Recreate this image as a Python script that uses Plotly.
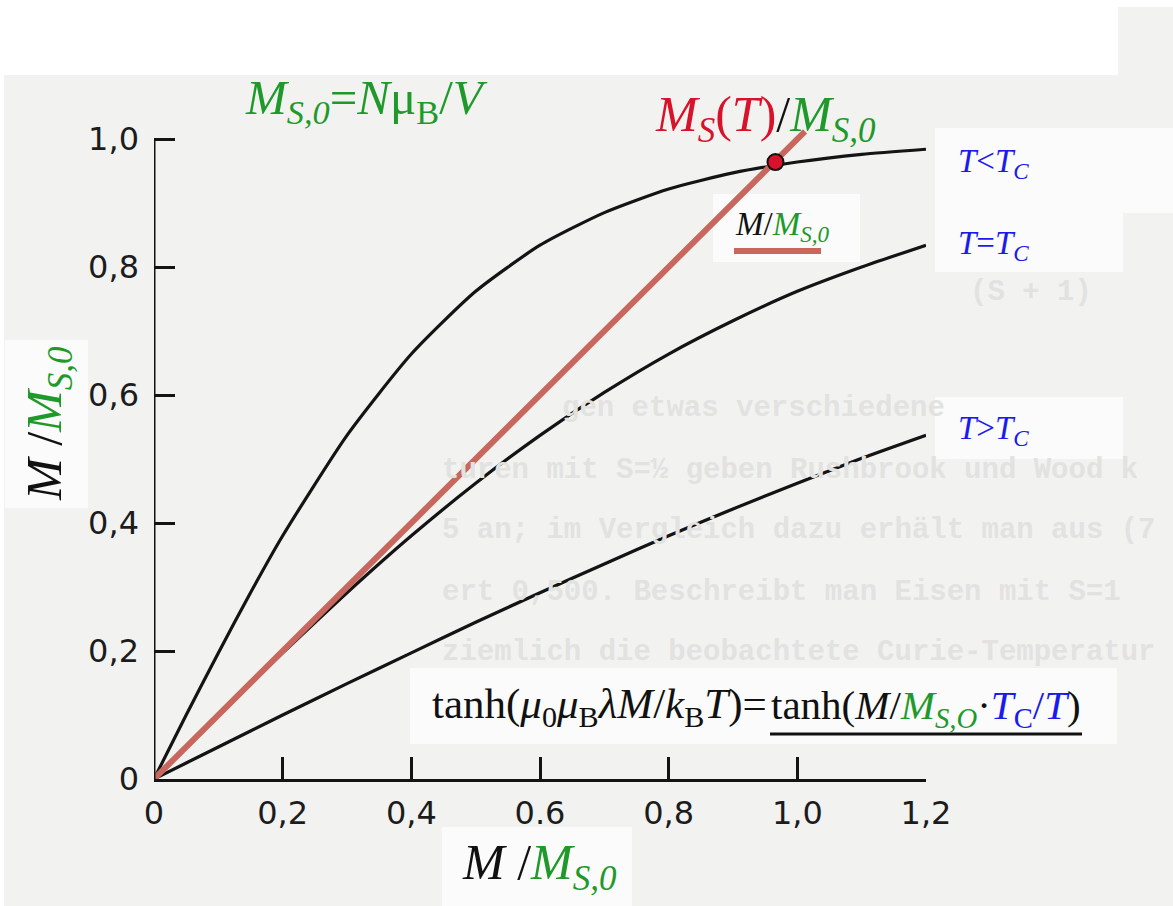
import plotly.graph_objects as go

# ---------------- data ----------------
x_vals = [0, 0.05, 0.1, 0.15, 0.2, 0.3, 0.4, 0.5, 0.6, 0.7, 0.8, 0.9, 1.0, 1.1, 1.2]
y_below_tc = [0, 0.100, 0.197, 0.291, 0.380, 0.537, 0.664, 0.762, 0.834, 0.885, 0.922, 0.947, 0.964, 0.976, 0.984]
y_at_tc = [0, 0.050, 0.100, 0.149, 0.197, 0.291, 0.380, 0.462, 0.537, 0.604, 0.664, 0.716, 0.762, 0.800, 0.834]
y_above_tc = [0, 0.025, 0.050, 0.075, 0.100, 0.149, 0.197, 0.245, 0.291, 0.336, 0.380, 0.422, 0.462, 0.501, 0.537]
line_x = [0, 1.012]
line_y = [0, 1.012]
point_x = [0.966]
point_y = [0.964]

x_ticks = [0, 0.2, 0.4, 0.6, 0.8, 1.0, 1.2]
x_tick_text = ["0", "0,2", "0,4", "0.6", "0,8", "1,0", "1,2"]
y_ticks = [0, 0.2, 0.4, 0.6, 0.8, 1.0]
y_tick_text = ["0", "0,2", "0,4", "0,6", "0,8", "1,0"]

# ---------------- layout constants ----------------
W, H = 1173, 906
ML, MR, MT, MB = 154, 247, 75, 127
PW, PH = W - ML - MR, H - MT - MB

GREEN = "#1f9a2a"
RED = "#d8122a"
BLUE = "#1a1aee"
SALMON = "#c8675e"
PAPER = "#f2f3f1"
BOX = "#fafbfa"
SERIF = "Liberation Serif"


def px(xp, yp):
    return (xp - ML) / PW, (H - MB - yp) / PH


fig = go.Figure()

curve_style = dict(color="#141414", width=3.2, shape="spline", smoothing=0.6)
fig.add_trace(go.Scatter(x=x_vals, y=y_below_tc, mode="lines", line=curve_style, hoverinfo="skip"))
fig.add_trace(go.Scatter(x=x_vals, y=y_at_tc, mode="lines", line=curve_style, hoverinfo="skip"))
fig.add_trace(go.Scatter(x=x_vals, y=y_above_tc, mode="lines", line=curve_style, hoverinfo="skip"))
fig.add_trace(go.Scatter(x=line_x, y=line_y, mode="lines", line=dict(color=SALMON, width=6), hoverinfo="skip"))
fig.add_trace(go.Scatter(x=point_x, y=point_y, mode="markers",
                         marker=dict(color=RED, size=16, line=dict(color="#111", width=2)),
                         hoverinfo="skip", cliponaxis=False))

shapes = []


def rect(x0, y0, x1, y1, color):
    a0, b0 = px(x0, y1)
    a1, b1 = px(x1, y0)
    shapes.append(dict(type="rect", xref="paper", yref="paper", x0=a0, y0=b0, x1=a1, y1=b1,
                       fillcolor=color, line=dict(width=0), layer="below"))


# white regions of the page (outside the scan) and label boxes
rect(0, 0, 1118, 75, "#ffffff")
rect(1118, 0, 1173, 7, "#ffffff")
rect(0, 75, 4, 906, "#ffffff")
rect(935, 128, 1123, 272, BOX)
rect(1123, 128, 1173, 213, BOX)
rect(935, 397, 1123, 459, BOX)
rect(713, 194, 860, 262, BOX)
rect(410, 668, 1117, 744, BOX)
rect(442, 827, 632, 906, BOX)
rect(5, 340, 88, 508, BOX)

# y axis line (scanned axis only reaches 1,0)
shapes.append(dict(type="line", xref="x", yref="y", x0=0, x1=0, y0=0, y1=1.0,
                   line=dict(color="#141414", width=3), layer="above"))

# red sample line under the small label
a0, b0 = px(734, 251)
a1, _ = px(821, 251)
shapes.append(dict(type="line", xref="paper", yref="paper", x0=a0, x1=a1, y0=b0, y1=b0,
                   line=dict(color=SALMON, width=6)))
# underline in the formula (under the right-hand side)
a0, b0 = px(770, 734)
a1, _ = px(1082, 734)
shapes.append(dict(type="line", xref="paper", yref="paper", x0=a0, x1=a1, y0=b0, y1=b0,
                   line=dict(color="#111", width=3)))

annotations = []


def label(xp, yp, text, size, color="#111", xanchor="left", angle=0, family=SERIF, yanchor="middle"):
    a, b = px(xp, yp)
    annotations.append(dict(xref="paper", yref="paper", x=a, y=b, text=text, showarrow=False,
                            xanchor=xanchor, yanchor=yanchor, textangle=angle,
                            font=dict(family=family, size=size, color=color)))


# faint text from the scanned page in the background
faint = "#e2e2e1"
faint_lines = [
    (968, 292, "(S + 1)"),
    (560, 408, "gen etwas verschiedene"),
    (440, 470, "turen mit S=½ geben Rushbrook und Wood k"),
    (440, 530, "5 an; im Vergleich dazu erhält man aus (7"),
    (440, 592, "ert 0,500. Beschreibt man Eisen mit S=1"),
    (440, 652, "ziemlich die beobachtete Curie-Temperatur"),
]
for xp, yp, t in faint_lines:
    label(xp, yp, "<b>" + t + "</b>", 29, color=faint, family="Liberation Mono")

g = lambda s: f"<span style='color:{GREEN}'>{s}</span>"
r = lambda s: f"<span style='color:{RED}'>{s}</span>"
b = lambda s: f"<span style='color:{BLUE}'>{s}</span>"

label(243, 100, g("<i>M</i><sub><i>S,0</i></sub>=<i>N</i>μ<sub>B</sub>/<i>V</i>"), 49)
label(653, 118, r("<i>M</i><sub><i>S</i></sub>(<i>T</i>)") + "/" + g("<i>M</i><sub><i>S,0</i></sub>"), 50)
label(956, 163, b("<i>T</i>&lt;<i>T</i><sub><i>C</i></sub>"), 33)
label(956, 245, b("<i>T</i>=<i>T</i><sub><i>C</i></sub>"), 33)
label(956, 430, b("<i>T</i>&gt;<i>T</i><sub><i>C</i></sub>"), 33)
label(733, 226, "<i>M</i>/" + g("<i>M</i><sub><i>S,0</i></sub>"), 33)
label(430, 707,
      "tanh(<i>μ</i><sub>0</sub><i>μ</i><sub>B</sub><i>λM</i>/<i>k</i><sub>B</sub><i>T</i>)=", 43)
label(769, 708,
      "tanh(<i>M</i>/" + g("<i>M</i><sub><i>S,O</i></sub>") + "·" + b("<i>T</i><sub>C</sub>/<i>T</i>") + ")", 41)
label(460, 866, "<i>M</i> /" + g("<i>M</i><sub><i>S,0</i></sub>"), 50)
label(48, 424, "<i>M</i> /" + g("<i>M</i><sub><i>S,0</i></sub>"), 50, xanchor="center", angle=-90)

tick_font = dict(family="DejaVu Sans", size=32, color="#1c1c1c")

fig.update_layout(
    width=W, height=H,
    margin=dict(l=ML, r=MR, t=MT, b=MB, pad=0),
    paper_bgcolor=PAPER,
    plot_bgcolor="rgba(0,0,0,0)",
    showlegend=False,
    shapes=shapes,
    annotations=annotations,
    xaxis=dict(range=[0, 1.2], showgrid=False, zeroline=False, showline=True,
               linecolor="#141414", linewidth=3, ticks="inside", ticklen=22, tickwidth=2.5,
               tickcolor="#141414", tickvals=x_ticks, ticktext=x_tick_text,
               tickfont=tick_font, ticklabelstandoff=4, fixedrange=True),
    yaxis=dict(range=[0, 1.1], showgrid=False, zeroline=False, showline=False,
               ticks="inside", ticklen=21, tickwidth=2.5, tickcolor="#141414",
               tickvals=y_ticks, ticktext=y_tick_text, tickfont=tick_font,
               ticklabelstandoff=14, fixedrange=True),
)

fig.write_html("out.html")
